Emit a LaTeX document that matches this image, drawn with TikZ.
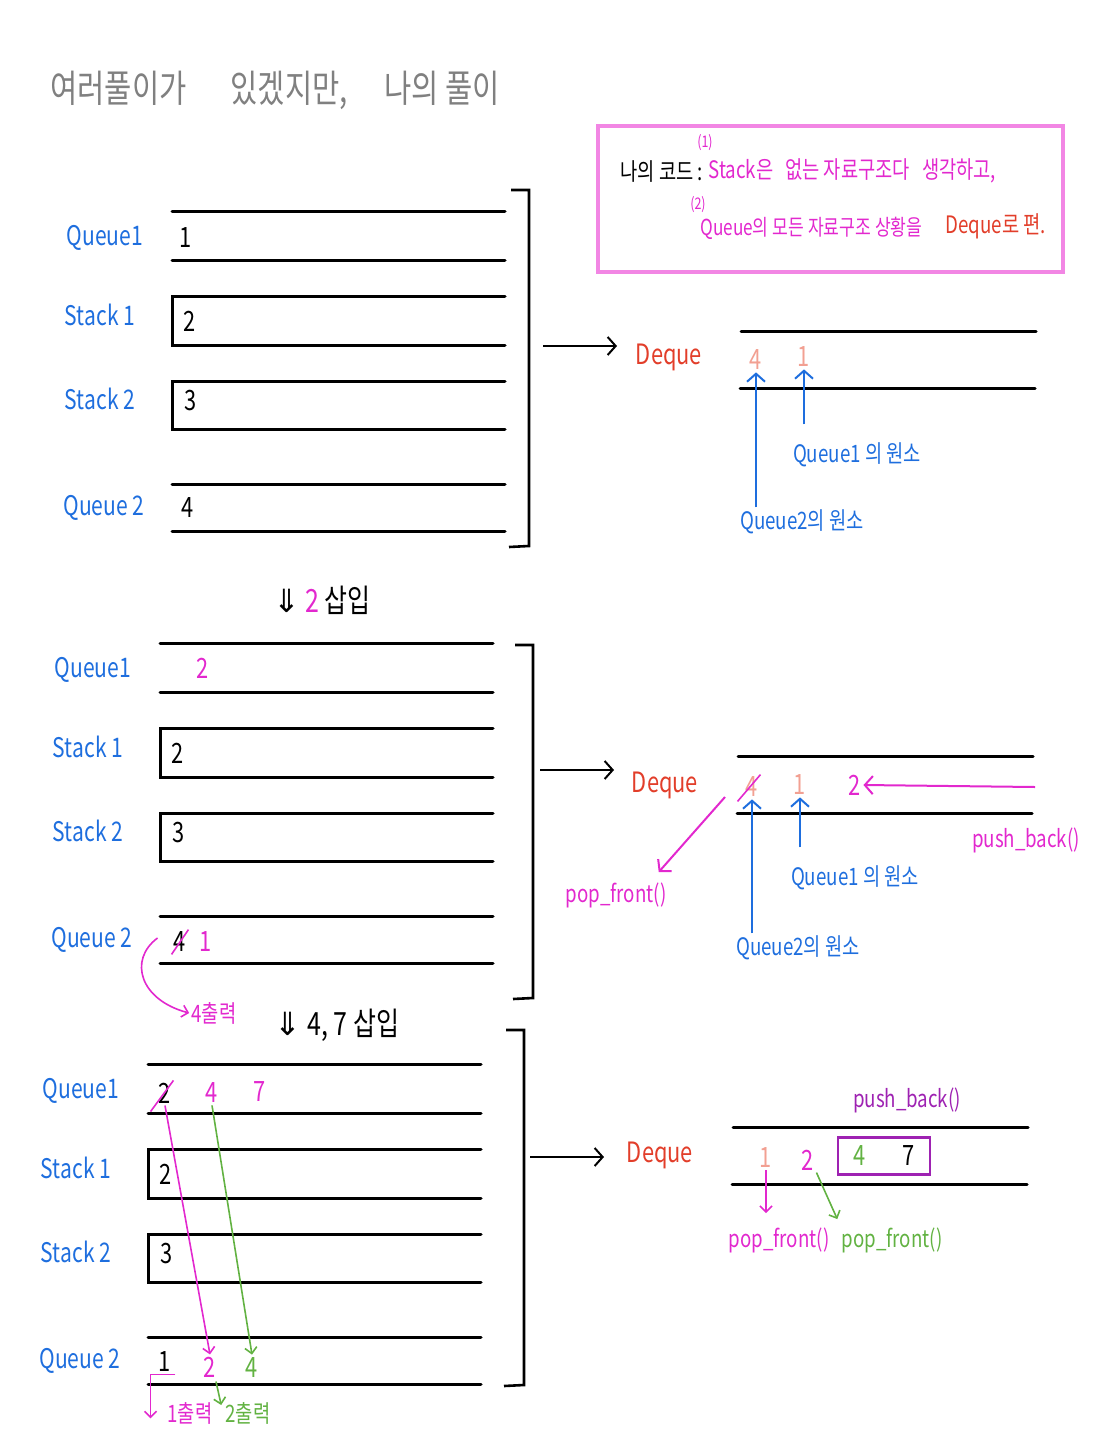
\documentclass[tikz,border=0pt]{standalone}
\usepackage{fontspec}
\setmainfont[FakeStretch=0.78]{Noto Sans CJK KR}
\newfontfamily\symfont{DejaVu Sans}
\usepackage{xcolor}
\usepackage{tikz}
\usetikzlibrary{arrows.meta,positioning,calc}

\definecolor{penblue}{RGB}{30,110,222}
\definecolor{penpink}{RGB}{226,40,206}
\definecolor{penred}{RGB}{226,62,42}
\definecolor{penpeach}{RGB}{242,160,146}
\definecolor{pengreen}{RGB}{98,178,66}
\definecolor{penpurple}{RGB}{158,34,178}
\definecolor{boxpink}{RGB}{242,134,228}
\definecolor{pengray}{RGB}{128,128,128}

\begin{document}
\begin{tikzpicture}[x=0.5pt, y=-0.5pt,
  rowline/.style={line width=1.5pt, line cap=round},
  hand/.style={inner sep=1pt, font=\fontsize{12}{14}\selectfont},
  lbl/.style={inner sep=1pt, text=penblue, font=\fontsize{13.5}{15}\selectfont},
  val/.style={inner sep=1pt, font=\fontsize{14}{16}\selectfont},
  deq/.style={inner sep=1pt, text=penred, font=\fontsize{14}{16}\selectfont},
  arrow/.style={-{Straight Barb[length=4pt,width=9pt]}, line width=1pt},
  thin arrow/.style={-{Straight Barb[length=3pt,width=6pt]}, line width=0.8pt}
]
\useasboundingbox (0,0) rectangle (1097,1440);

% title
\node[hand, text=pengray, font=\fontsize{19}{21}\selectfont, anchor=west]
  (title) at (48,90) {여러풀이가\hspace{22pt}있겠지만,\hspace{18pt}나의 풀이};

% my code
\draw[boxpink, line width=1.6pt] (598,126) rectangle (1063,272);
\node[hand, anchor=west] (mycode) at (618,172) {나의 코드 :};
\node[hand, text=penpink, font=\fontsize{8}{9}\selectfont] (n1) at (705,143) {(1)};
\node[hand, text=penpink, anchor=west] (idea1) at (706,171)
  {Stack은\enspace 없는 자료구조다\enspace 생각하고,};
\node[hand, text=penpink, font=\fontsize{8}{9}\selectfont] (n2) at (698,205) {(2)};
\node[hand, text=penpink, anchor=west, font=\fontsize{11}{13}\selectfont] (idea2)
  at (698,228) {Queue의 모든 자료구조 상황을};
\node[hand, text=penred, anchor=west] (idea3) at (943,226) {Deque로 편.};

% the four containers, the bracket and the deque, once per step
\foreach \p/\xo/\yo/\bx/\bt/\bb/\ax/\ay/\dx/\dy/\qx/\qy in
  {1/172/211/529/190/546/543/346/741/331/669/357,
   2/160/643/533/645/998/540/770/738/756/665/785,
   3/148/1064/524/1030/1385/530/1157/733/1127/660/1155} {
  \draw[rowline] (\xo,\yo) -- ++(333,0) (\xo,\yo+49) -- ++(333,0);
  \draw[rowline] (\xo+333,\yo+85) -- (\xo,\yo+85) -- (\xo,\yo+134) -- (\xo+333,\yo+134);
  \draw[rowline] (\xo+333,\yo+170) -- (\xo,\yo+170) -- (\xo,\yo+218) -- (\xo+333,\yo+218);
  \draw[rowline] (\xo,\yo+273) -- ++(333,0) (\xo,\yo+320) -- ++(333,0);
  \node[lbl] (qa\p) at (\xo-67,\yo+27) {Queue1};
  \node[lbl] (sa\p) at (\xo-72,\yo+104) {Stack 1};
  \node[lbl] (sb\p) at (\xo-72,\yo+188) {Stack 2};
  \node[lbl] (qb\p) at (\xo-68,\yo+297) {Queue 2};
  \node[val] (sv\p) at (\xo+18,\yo+110) {2};
  \node[val] (tv\p) at (\xo+19,\yo+190) {3};
  \draw[line width=1.3pt] (\bx-18,\bt) -- (\bx,\bt) -- (\bx,\bb) -- (\bx-20,\bb+1);
  \coordinate (ar\p) at (\ax,\ay);
  \coordinate (ae\p) at (\ax+74,\ay);
  \draw[arrow] (ar\p) -- (ae\p);
  \node[deq] (dq\p) at (\qx,\qy) {Deque};
  \draw[rowline] (\dx,\dy) -- ++(295,0) (\dx-1,\dy+57) -- ++(295,0);
}

% step 1
\node[val] (q1a) at (186,238) {1};
\node[val] (q2a) at (188,508) {4};
\node[val, text=penpeach] (d4a) at (756,360) {4};
\node[val, text=penpeach] (d1a) at (804,357) {1};
\node[hand, text=penblue] (own1a) at (857,455) {Queue1 의 원소};
\node[hand, text=penblue] (own2a) at (802,522) {Queue2의 원소};
\draw[arrow, penblue] (d4a.south |- own2a.north) -- (d4a.south);
\draw[arrow, penblue] ($(d1a.south |- own1a.north)+(0,-16)$) -- (d1a.south);

\node[hand, font=\fontsize{16}{18}\selectfont] (ins2) at (322,600)
  {{\symfont ⇓}\ \textcolor{penpink}{2}\,삽입};

% step 2
\node[val, text=penpink] (q1b) at (203,668) {2};
\node[val] (q2b) at (180,942) {4};
\node[val, text=penpink] (q2bb) at (206,942) {1};
\draw[penpink, line width=0.8pt] (q2b.south west) -- (q2b.north east);
\node[hand, text=penpink] (out4) at (214,1013) {4출력};
\draw[thin arrow, penpink] ($(q2b.west)+(-14,-4)$)
  .. controls (128,960) and (140,1000) .. (out4.west);

\node[val, text=penpeach] (d4b) at (752,787) {4};
\node[val, text=penpeach] (d1b) at (800,785) {1};
\node[val, text=penpink] (d2b) at (855,785) {2};
\draw[penpink, line width=0.8pt] ($(d4b.south west)+(-6,2)$) -- (d4b.north east);
\coordinate (pbin) at (1035,787);
\draw[arrow, penpink] (pbin) -- (d2b.east);
\node[hand, text=penpink] (pb2) at (1026,840) {push\_back()};
\node[hand, text=penpink] (pf2) at (616,895) {pop\_front()};
\coordinate (pfout) at (725,797);
\draw[arrow, penpink] (pfout) -- ($(pf2.north east)+(-10,-8)$);
\node[hand, text=penblue] (own1b) at (855,878) {Queue1 의 원소};
\node[hand, text=penblue] (own2b) at (798,948) {Queue2의 원소};
\draw[arrow, penblue] (d4b.south |- own2b.north) -- (d4b.south);
\draw[arrow, penblue] ($(d1b.south |- own1b.north)+(0,-16)$) -- (d1b.south);

\node[hand, font=\fontsize{16}{18}\selectfont] (ins47) at (337,1025)
  {{\symfont ⇓}\ 4, 7 삽입};

% step 3
\node[val] (q1c) at (165,1093) {2};
\draw[penpink, line width=0.8pt] ($(q1c.south west)+(-6,6)$) -- (q1c.north east);
\node[val, text=penpink] (q1d) at (212,1093) {4};
\node[val, text=penpink] (q1e) at (260,1092) {7};
\node[val] (q2c) at (165,1362) {1};
\node[val, text=penpink] (q2d) at (210,1367) {2};
\node[val, text=pengreen] (q2e) at (252,1367) {4};
\draw[thin arrow, penpink] (q1c.south) -- (q2d.north);
\draw[thin arrow, pengreen] (q1d.south) -- (q2e.north);
\node[hand, text=penpink] (out1) at (190,1413) {1출력};
\node[hand, text=pengreen] (out2) at (248,1413) {2출력};
\draw[thin arrow, penpink] ($(q2c.south east)+(2,0)$) -- ($(q2c.south west)+(-6,0)$) -- ++(0,44);
\draw[thin arrow, pengreen] ($(q2d.south)+(6,2)$) -- ($(out2.west)+(-2,-8)$);

\node[val, text=penpeach] (e1) at (766,1158) {1};
\node[val, text=penpink] (e2) at (808,1160) {2};
\node[draw=penpurple, line width=1.2pt, minimum width=46pt, minimum height=18.5pt,
  inner sep=0pt, font=\fontsize{14}{16}\selectfont] (pushbox) at (884,1156)
  {\textcolor{pengreen}{4}\hspace{18pt}7};
\node[hand, text=penpurple] (pb3) at (907,1100) {push\_back()};
\node[hand, text=penpink] (pf3a) at (779,1240) {pop\_front()};
\node[hand, text=pengreen] (pf3b) at (892,1240) {pop\_front()};
\draw[thin arrow, penpink, shorten >=6pt] (e1.south) -- (e1.south |- pf3a.north);
\draw[thin arrow, pengreen] (e2.south east) -- ($(pf3b.north west)+(-2,-6)$);

\end{tikzpicture}
\end{document}
